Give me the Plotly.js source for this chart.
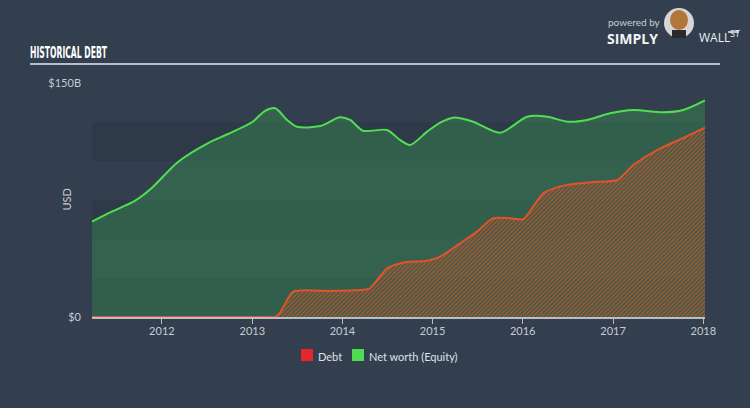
<!DOCTYPE html>
<html><head><meta charset="utf-8">
<script src="https://cdn.plot.ly/plotly-3.0.1.min.js"></script>
<style>html,body{margin:0;padding:0;background:#333f4f;} #chart{width:750px;height:408px;}</style>
</head><body><div id="chart"></div>
<script>
// ---- data ----
const seriesNames = ['Debt', 'Net worth (Equity)'];

const equityDates = ['2011-03-24','2011-06-12','2011-09-13','2011-11-21','2012-03-06','2012-07-06','2012-09-25',
  '2013-01-01','2013-02-22','2013-04-04','2013-05-22','2013-07-01','2013-10-03','2013-12-22','2014-02-01',
  '2014-03-25','2014-07-01','2014-08-22','2014-10-02','2014-12-10','2015-02-01','2015-03-25','2015-06-14',
  '2015-10-01','2016-01-19','2016-04-10','2016-06-30','2016-09-18','2016-12-20','2017-03-24','2017-07-23',
  '2017-10-12','2018-01-08'];
const equityValues = [61.1, 67.5, 74.4, 82.7, 99.4, 111.5, 117.3,
  125.0, 132.2, 133.8, 126.3, 122.0, 122.4, 128.0, 126.3,
  119.4, 119.9, 113.5, 110.3, 118.8, 124.6, 127.8, 125.2,
  118.1, 128.4, 128.4, 125.2, 126.3, 130.6, 132.7, 131.2,
  132.7, 138.8];

const debtDates = ['2011-03-24','2012-06-01','2013-03-01','2013-04-04','2013-04-23','2013-06-16','2013-11-12','2014-03-13',
  '2014-04-22','2014-07-01','2014-09-03','2014-12-10','2015-02-01','2015-04-22','2015-06-30','2015-09-03',
  '2015-11-10','2016-01-02','2016-02-12','2016-03-24','2016-05-19','2016-07-23','2016-10-12','2017-01-18',
  '2017-03-24','2017-06-28','2017-09-30','2018-01-08'];
const debtValues = [0, 0, 0, 0, 2.6, 16.2, 16.7, 17.3,
  18.4, 31.2, 34.8, 36.1, 38.7, 47.2, 54.7, 63.3,
  63.3, 62.6, 70.7, 79.3, 83.1, 85.3, 86.5, 87.8,
  97.4, 107.0, 113.9, 121.3];

const xRange = ['2011-03-24', '2018-01-08'];
const xTickVals = ['2012-01-01','2013-01-01','2014-01-01','2015-01-01','2016-01-01','2017-01-01','2018-01-01'];
const xTickText = ['2012','2013','2014','2015','2016','2017','2018'];
const yRange = [0, 150];
const yTickVals = [0, 150];
const yTickText = ['$0', '$150B'];
const bandRanges = [[0, 25], [50, 75], [100, 125]];

// ---- layout helpers (pixel -> paper) ----
const L = 92, R = 705, T = 83, B = 317;
const px = v => (v - L) / (R - L);
const py = v => (B - v) / (B - T);
const FONT = 'Lato, "Open Sans", sans-serif';
const TXT = '#c6cbd2';

const traces = [
  {
    x: equityDates, y: equityValues, name: seriesNames[1], type: 'scatter', mode: 'lines',
    line: {color: '#4fe04f', width: 2, shape: 'spline', smoothing: 0.8},
    fill: 'tozeroy', fillcolor: 'rgba(60,200,80,0.26)', showlegend: false, hoverinfo: 'skip'
  },
  {
    x: debtDates, y: debtValues, name: seriesNames[0], type: 'scatter', mode: 'lines',
    line: {color: '#e2532b', width: 2, shape: 'spline', smoothing: 0.6},
    fill: 'tozeroy', fillcolor: 'rgba(0,0,0,0)',
    fillpattern: {shape: '/', fgcolor: '#b9552f', bgcolor: 'rgba(110,85,60,0.18)', size: 3, solidity: 0.4},
    showlegend: false, hoverinfo: 'skip'
  }
];

const shapes = [];
bandRanges.forEach(b => shapes.push({type: 'rect', xref: 'paper', yref: 'y', x0: 0, x1: 1, y0: b[0], y1: b[1],
  fillcolor: 'rgba(0,0,0,0.07)', line: {width: 0}, layer: 'below'}));
// title underline
shapes.push({type: 'line', xref: 'paper', yref: 'paper', x0: px(30), x1: px(720), y0: py(64), y1: py(64),
  line: {color: '#b9bfc7', width: 2}});
// legend squares
shapes.push({type: 'rect', xref: 'paper', yref: 'paper', x0: px(301), x1: px(313), y0: py(349), y1: py(361),
  fillcolor: '#e3262a', line: {width: 0}});
shapes.push({type: 'rect', xref: 'paper', yref: 'paper', x0: px(352), x1: px(364), y0: py(349), y1: py(361),
  fillcolor: '#4fdc50', line: {width: 0}});
// logo badge
shapes.push({type: 'circle', xref: 'paper', yref: 'paper', x0: px(664), x1: px(694), y0: py(8), y1: py(38),
  fillcolor: '#d6d6d6', line: {width: 0}});
shapes.push({type: 'circle', xref: 'paper', yref: 'paper', x0: px(670), x1: px(688), y0: py(10), y1: py(30),
  fillcolor: '#b0763a', line: {width: 0}});
shapes.push({type: 'rect', xref: 'paper', yref: 'paper', x0: px(672), x1: px(686), y0: py(30), y1: py(38),
  fillcolor: '#2a2a2e', line: {width: 0}});
shapes.push({type: 'line', xref: 'paper', yref: 'paper', x0: px(728), x1: px(739), y0: py(32), y1: py(32),
  line: {color: '#e8eaec', width: 1.5}});

const annotations = [
  {text: 'USD', xref: 'paper', yref: 'paper', x: px(57), y: py(200), textangle: -90, showarrow: false,
    font: {family: FONT, size: 11, color: TXT}},
  {text: seriesNames[0], xref: 'paper', yref: 'paper', x: px(316), y: py(356), xanchor: 'left', yanchor: 'middle', showarrow: false,
    font: {family: FONT, size: 11, color: '#dfe2e6'}},
  {text: seriesNames[1], xref: 'paper', yref: 'paper', x: px(367), y: py(356), xanchor: 'left', yanchor: 'middle', showarrow: false,
    font: {family: FONT, size: 11, color: '#dfe2e6'}},
  {text: 'powered by', xref: 'paper', yref: 'paper', x: px(606), y: py(14), xanchor: 'left', showarrow: false,
    font: {family: FONT, size: 10, color: '#c9cdd2'}},
  {text: '<b>SIMPLY</b>', xref: 'paper', yref: 'paper', x: px(605), y: py(27), xanchor: 'left', showarrow: false,
    font: {family: '"Open Sans", sans-serif', size: 14, color: '#f2f3f5'}},
  {text: 'WALL', xref: 'paper', yref: 'paper', x: px(697), y: py(27), xanchor: 'left', showarrow: false,
    font: {family: '"Open Sans", sans-serif', size: 12, color: '#eceef0'}},
  {text: 'ST', xref: 'paper', yref: 'paper', x: px(728), y: py(25), xanchor: 'left', showarrow: false,
    font: {family: '"Open Sans", sans-serif', size: 9, color: '#eceef0'}}
];

const layout = {
  width: 750, height: 408,
  margin: {l: L, r: 750 - R, t: T, b: 408 - B},
  paper_bgcolor: '#333f4f', plot_bgcolor: 'rgba(0,0,0,0)',
  showlegend: false,
  title: {text: 'HISTORICAL DEBT', x: 30 / 750, xanchor: 'left', xref: 'container', y: 1 - 52 / 408, yref: 'container',
    yanchor: 'middle', font: {family: '"Liberation Sans Narrow", "DejaVu Sans Condensed", sans-serif', size: 16, color: '#ffffff', weight: 'bold'}},
  xaxis: {type: 'date', range: xRange, tickvals: xTickVals, ticktext: xTickText, showgrid: false, zeroline: false,
    showline: true, linecolor: '#b7bec8', linewidth: 1.5, ticks: 'outside', ticklen: 5, tickcolor: '#b7bec8', tickwidth: 1,
    ticklabelstandoff: -2, tickfont: {family: FONT, size: 11, color: TXT}, fixedrange: true},
  yaxis: {range: yRange, tickvals: yTickVals, ticktext: yTickText, showgrid: false, zeroline: false, showline: false,
    ticks: '', ticklabelstandoff: 10, tickfont: {family: FONT, size: 11, color: TXT}, fixedrange: true},
  shapes: shapes, annotations: annotations
};

Plotly.newPlot('chart', traces, layout, {displayModeBar: false, staticPlot: true}).then(() => {
  const t = document.querySelector('.gtitle');
  if (t) { t.setAttribute('textLength', '77'); t.setAttribute('lengthAdjust', 'spacingAndGlyphs'); }
});
</script>
</body></html>
